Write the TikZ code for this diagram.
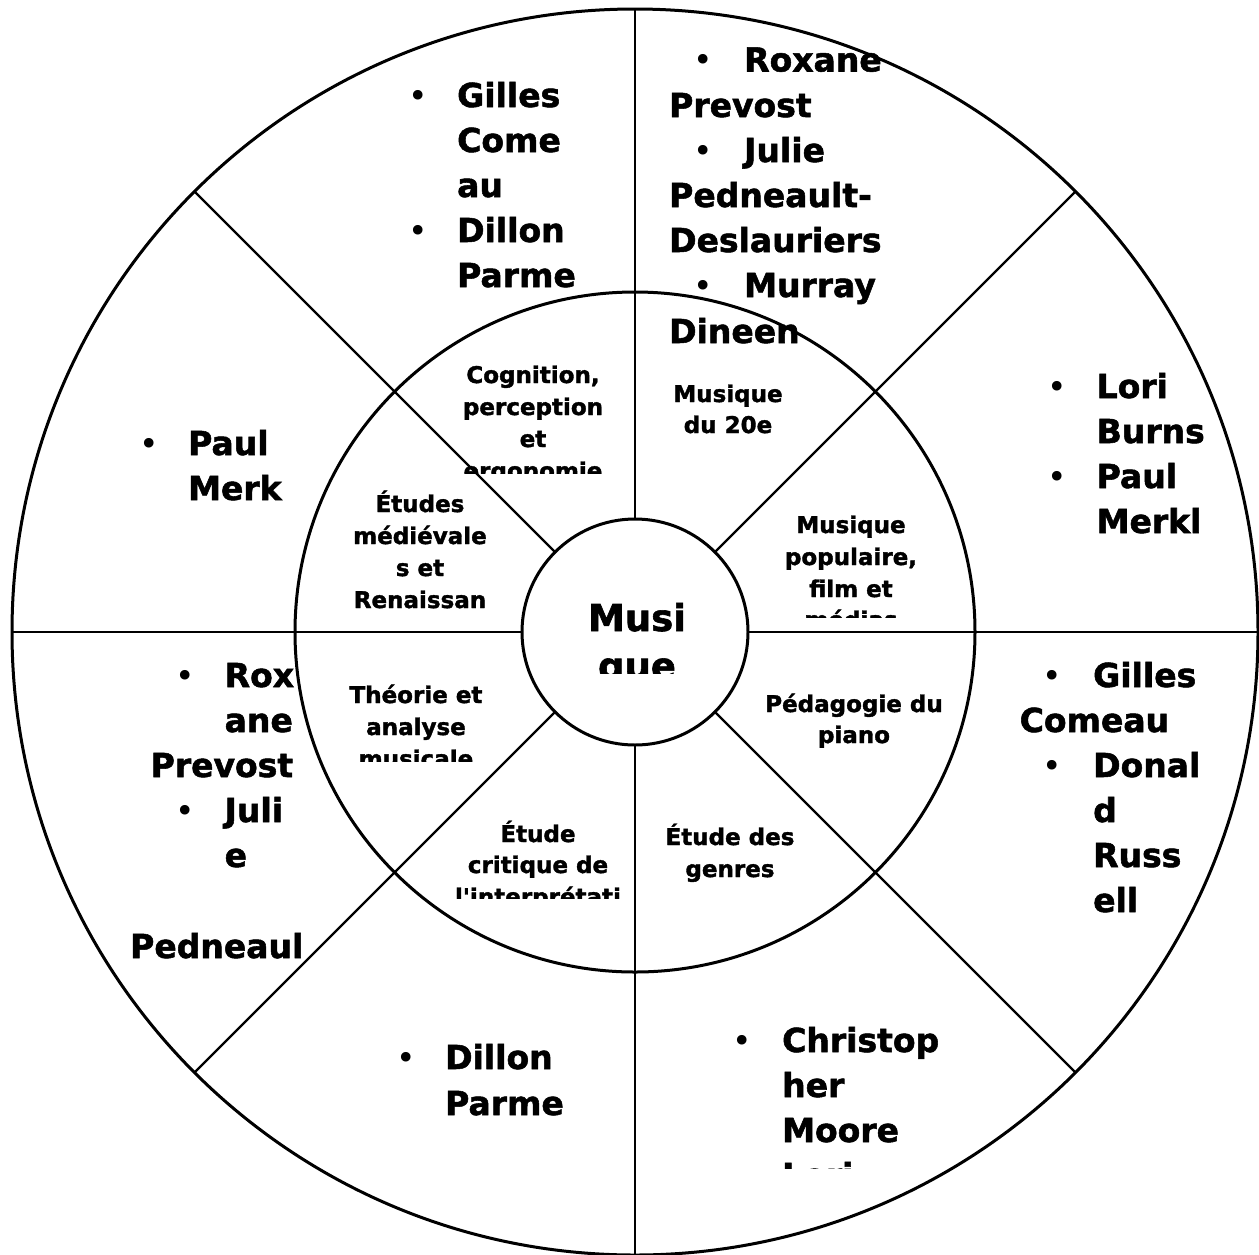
\documentclass[tikz,border=0pt]{standalone}
\usepackage{fontspec}
\setmainfont{DejaVu Sans}[BoldFeatures={FakeBold=1.6}]
\begin{document}
\begin{tikzpicture}[x=1pt,y=-1pt,
  ring/.style={line width=3pt},
  spoke/.style={line width=2.4pt},
  intext/.style={font=\fontsize{23}{32}\selectfont\bfseries, inner sep=0pt, anchor=base},
  midtext/.style={font=\fontsize{37}{51}\selectfont\bfseries, inner sep=0pt, anchor=base},
  outtext/.style={font=\fontsize{33}{45}\selectfont\bfseries, inner sep=0pt, anchor=base west},
  bul/.style={font=\fontsize{33}{45}\selectfont, inner sep=0pt, anchor=base}]
\useasboundingbox (0,0) rectangle (1259,1254);
\fill[white] (0,0) rectangle (1259,1254);
\coordinate (O) at (635,632);
% rings
\draw[ring] (O) circle[radius=623];
\draw[ring] (O) circle[radius=340];
\draw[ring] (O) circle[radius=113];
% spokes
\foreach \a in {0,45,...,315} \draw[spoke] (O) ++(\a:113) -- ++(\a:510);
% centre
\node[midtext] (m1) at (637,631) {Musi};
\begin{scope}
  \clip (500,640) rectangle (780,673);
  \node[midtext] (m2) at (637,679) {que};
\end{scope}
% inner ring
\node[intext] (c1a) at (533,383) {Cognition,};
\node[intext] (c1b) at (533,415) {perception};
\node[intext] (c1c) at (533,447) {et};
\begin{scope}
  \clip (420,450) rectangle (650,473);
  \node[intext] (c1d) at (533,479) {ergonomie};
\end{scope}
\node[intext] (c2a) at (728,402) {Musique};
\node[intext] (c2b) at (728,433) {du 20e};
\node[intext] (c3a) at (420,512) {Études};
\node[intext] (c3b) at (420,544) {médiévale};
\node[intext] (c3c) at (420,576) {s et};
\node[intext] (c3d) at (420,608) {Renaissan};
\node[intext] (c4a) at (851,533) {Musique};
\node[intext] (c4b) at (851,565) {populaire,};
\node[intext] (c4c) at (851,597) {film et};
\begin{scope}
  \clip (760,600) rectangle (950,617);
  \node[intext] (c4d) at (851,628) {médias};
\end{scope}
\node[intext] (c5a) at (416,703) {Théorie et};
\node[intext] (c5b) at (416,735) {analyse};
\begin{scope}
  \clip (320,740) rectangle (520,761);
  \node[intext] (c5c) at (416,767) {musicale};
\end{scope}
\node[intext] (c6a) at (854,712) {Pédagogie du};
\node[intext] (c6b) at (854,743) {piano};
\node[intext] (c7a) at (538,842) {Étude};
\node[intext] (c7b) at (538,873) {critique de};
\begin{scope}
  \clip (440,878) rectangle (640,898);
  \node[intext] (c7c) at (538,905) {l\textquotesingle interprétati};
\end{scope}
\node[intext] (c8a) at (730,845) {Étude des};
\node[intext] (c8b) at (730,877) {genres};
% outer ring: top
\node[bul] (b1a) at (418,107) {•};
\node[outtext] (o1a) at (457,107) {Gilles};
\node[outtext] (o1b) at (457,152) {Come};
\node[outtext] (o1c) at (457,197) {au};
\node[bul] (b1b) at (418,242) {•};
\node[outtext] (o1d) at (457,242) {Dillon};
\node[outtext] (o1e) at (457,287) {Parme};
% top right
\node[bul] (b2a) at (703,71.5) {•};
\node[outtext] (o2a) at (744,71.5) {Roxane};
\node[outtext] (o2b) at (669,117) {Prevost};
\node[bul] (b2b) at (703,162) {•};
\node[outtext] (o2c) at (744,162) {Julie};
\node[outtext] (o2d) at (669,207) {Pedneault-};
\node[outtext] (o2e) at (669,252) {Deslauriers};
\node[bul] (b2c) at (703,297) {•};
\node[outtext] (o2f) at (744,297) {Murray};
\node[outtext] (o2g) at (669,343) {Dineen};
% right upper
\node[bul] (b3a) at (1057,398) {•};
\node[outtext] (o3a) at (1096.5,398) {Lori};
\node[outtext] (o3b) at (1096.5,443) {Burns};
\node[bul] (b3b) at (1057,488) {•};
\node[outtext] (o3c) at (1096.5,488) {Paul};
\node[outtext] (o3d) at (1096.5,533) {Merkl};
% left upper
\node[bul] (b4a) at (149,455) {•};
\node[outtext] (o4a) at (188,455) {Paul};
\node[outtext] (o4b) at (188,500) {Merk};
% left lower
\node[bul] (b5a) at (185,687) {•};
\node[outtext] (o5a) at (224.5,687) {Rox};
\node[outtext] (o5b) at (224.5,732) {ane};
\node[outtext] (o5c) at (150.5,777) {Prevost};
\node[bul] (b5b) at (185,822) {•};
\node[outtext] (o5d) at (224.5,822) {Juli};
\node[outtext] (o5e) at (224.5,867) {e};
\node[outtext] (o5f) at (130,958) {Pedneaul};
% right lower
\node[bul] (b6a) at (1052,687) {•};
\node[outtext] (o6a) at (1093,687) {Gilles};
\node[outtext] (o6b) at (1019.5,732) {Comeau};
\node[bul] (b6b) at (1052,777) {•};
\node[outtext] (o6c) at (1093,777) {Donal};
\node[outtext] (o6d) at (1093,822) {d};
\node[outtext] (o6e) at (1093,867) {Russ};
\node[outtext] (o6f) at (1093,912) {ell};
% bottom left
\node[bul] (b7a) at (406,1069) {•};
\node[outtext] (o7a) at (445,1069) {Dillon};
\node[outtext] (o7b) at (445,1115) {Parme};
% bottom right
\node[bul] (b8a) at (742,1052) {•};
\node[outtext] (o8a) at (782,1052) {Christop};
\node[outtext] (o8b) at (782,1097) {her};
\node[outtext] (o8c) at (782,1142) {Moore};
\begin{scope}
  \clip (700,1150) rectangle (1000,1168);
  \node[bul] (b8b) at (742,1187) {•};
  \node[outtext] (o8d) at (782,1187) {Lori};
\end{scope}
\end{tikzpicture}
\end{document}
